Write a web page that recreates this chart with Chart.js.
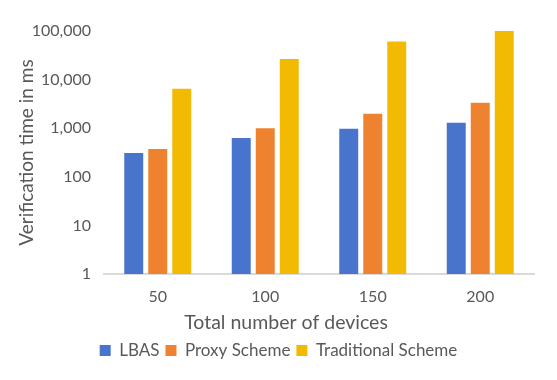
<!DOCTYPE html>
<html>
<head>
<meta charset="utf-8">
<script src="https://cdn.jsdelivr.net/npm/chart.js@4"></script>
<style>
html,body{margin:0;padding:0;background:#fff;}
#wrap{width:557px;height:380px;}
</style>
</head>
<body>
<div id="wrap"><canvas id="c" width="557" height="380"></canvas></div>
<script>
const categories = ['50', '100', '150', '200'];
const lbas = [310, 630, 970, 1290];
const proxy = [375, 1000, 1990, 3330];
const traditional = [6500, 26500, 60500, 100000];
const yTicks = [1, 10, 100, 1000, 10000, 100000];
const seriesNames = ['LBAS', 'Proxy Scheme', 'Traditional Scheme'];
const xTitle = 'Total number of devices';
const yTitle = 'Verification time in ms';

const FONT = 'Lato';
const TXT = '#595959';

const xTitlePlugin = {
  id: 'xTitlePlugin',
  afterDraw(chart) {
    const ctx = chart.ctx;
    const ca = chart.chartArea;
    ctx.save();
    ctx.fillStyle = TXT;
    ctx.font = '19.5px ' + FONT;
    ctx.textAlign = 'center';
    ctx.textBaseline = 'middle';
    ctx.fillText(xTitle, (ca.left + ca.right) / 2 - 33, ca.bottom + 49);
    ctx.restore();
  }
};

new Chart(document.getElementById('c'), {
  type: 'bar',
  data: {
    labels: categories,
    datasets: [
      {label: seriesNames[0], data: lbas, backgroundColor: '#4874CB'},
      {label: seriesNames[1], data: proxy, backgroundColor: '#EE822F'},
      {label: seriesNames[2], data: traditional, backgroundColor: '#F2BA02'}
    ]
  },
  plugins: [xTitlePlugin],
  options: {
    responsive: false,
    animation: false,
    devicePixelRatio: 1,
    layout: {padding: {left: 23, right: 23, top: 31, bottom: 11}},
    datasets: {bar: {categoryPercentage: 0.67, barPercentage: 0.79}},
    plugins: {
      tooltip: {enabled: false},
      legend: {
        position: 'bottom',
        labels: {boxWidth: 11, boxHeight: 11, padding: 6, color: TXT, font: {family: FONT, size: 17}}
      }
    },
    scales: {
      x: {
        afterFit: (s) => { s.height = 62; },
        grid: {display: false, drawTicks: false},
        border: {display: true, color: '#d9d9d9', width: 2},
        ticks: {color: TXT, font: {family: FONT, size: 16}, padding: 13},
        title: {display: false}
      },
      y: {
        type: 'logarithmic',
        min: 1, max: 100000,
        afterBuildTicks: (s) => { s.ticks = yTicks.map(v => ({value: v})); },
        afterFit: (s) => { s.width = 81; },
        grid: {display: false, drawTicks: false},
        border: {display: false},
        ticks: {color: TXT, font: {family: FONT, size: 16}, padding: 13,
          callback: (v) => Number(v).toLocaleString('en-US')},
        title: {display: true, text: yTitle, color: TXT, font: {family: FONT, size: 19}, padding: {top: -8, bottom: 0}}
      }
    }
  }
});
</script>
</body>
</html>
